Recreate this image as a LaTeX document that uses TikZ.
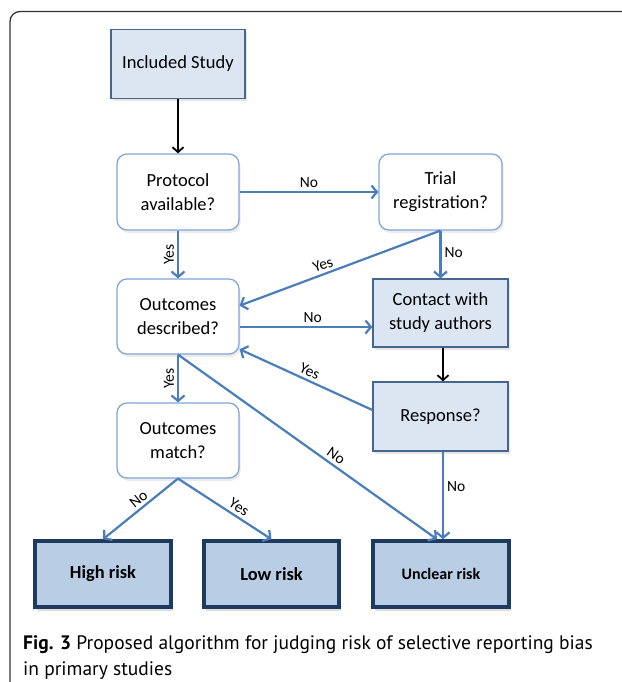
\documentclass[tikz,border=0pt]{standalone}
\usepackage{fontspec}
\setmainfont{Carlito}
\newfontfamily\capfont{PT Sans}
\usepackage{tikz}
\usetikzlibrary{arrows.meta,shadows}
\definecolor{fc-fill}{HTML}{DCE6F2}
\definecolor{fc-line}{HTML}{45668F}
\definecolor{fc-ask}{HTML}{7EA3D6}
\definecolor{fc-flow}{HTML}{4A7EBB}
\definecolor{fc-riskfill}{HTML}{B9CDE5}
\definecolor{fc-riskline}{HTML}{1E3A5F}
\definecolor{fc-frame}{HTML}{333333}

\tikzset{
    boxtext/.style={font=\fontsize{18.5}{24}\selectfont, align=center},
    plainbox/.style={boxtext, draw=fc-line, fill=fc-fill, line width=1.2pt,
        minimum width=135pt, minimum height=69pt,
        drop shadow={opacity=0.2, shadow xshift=1.5pt, shadow yshift=-3pt}},
    askbox/.style={boxtext, draw=fc-ask, fill=white, line width=1.2pt, rounded corners=10pt,
        minimum width=122pt, minimum height=76pt,
        drop shadow={opacity=0.15, shadow xshift=1.5pt, shadow yshift=-3pt}},
    riskbox/.style={draw=fc-riskline, fill=fc-riskfill, line width=3.5pt,
        minimum width=136pt, minimum height=66pt, font=\bfseries\fontsize{18.4}{22}\selectfont,
        drop shadow={opacity=0.25, shadow xshift=1.5pt, shadow yshift=-3.5pt}},
    flow/.style={draw=fc-flow, line width=2.2pt, -{Straight Barb[length=5.5pt,width=13pt]}},
    hard/.style={draw=black, line width=1.8pt, -{Straight Barb[length=5pt,width=11pt]}},
    lbl/.style={font=\fontsize{15.5}{18}\selectfont, inner sep=3pt}
}

\begin{document}
\begin{tikzpicture}[x=1pt, y=1pt]
    \useasboundingbox (0,0) rectangle (621,-682);
    \draw[fc-frame, line width=1.3pt, rounded corners=10pt] (10,-700) -- (10,-11.5) -- (650,-11.5);

    \node[plainbox, minimum width=134pt] (study) at (178,-64) {Included Study};
    \node[askbox] (protocol) at (178,-192) {Protocol\\available?};
    \node[askbox, minimum width=123pt] (trial) at (440.5,-192) {Trial\\registration?};
    \node[askbox, minimum height=75pt] (described) at (178,-316.5) {Outcomes\\described?};
    \node[plainbox, minimum height=68pt] (contact) at (440.5,-313) {Contact with\\study authors};
    \node[plainbox] (response) at (440.5,-416.5) {Response?};
    \node[askbox, minimum height=75pt] (match) at (178,-440.5) {Outcomes\\match?};
    \node[riskbox] (high) at (103,-574) {High risk};
    \node[riskbox, minimum width=135pt] (low) at (271.5,-574) {Low risk};
    \node[riskbox, font=\bfseries\fontsize{16}{20}\selectfont] (unclear) at (441,-574) {Unclear risk};

    \draw[hard] (study) -- (protocol);
    \draw[hard] (contact.south -| response.north) ++(2.5pt,0) coordinate (c1) -- (c1 |- response.north);
    \draw[flow] (protocol) -- node[lbl, above] {No} (trial);
    \draw[flow] (protocol) -- node[lbl, rotate=90, anchor=south] {Yes} (described);
    \draw[flow] (trial) -- node[lbl, right, pos=0.45] {No} (contact);
    \draw[flow] (trial.south) -- node[lbl, sloped, above, pos=0.57] {Yes} (described.10);
    \draw[flow] ([yshift=-10.5pt]described.east) coordinate (d1) -- node[lbl, above, pos=0.55] {No} (d1 -| contact.west);
    \draw[flow] ([yshift=6.5pt]response.west) -- node[lbl, sloped, above, pos=0.5] {Yes} (described.-28);
    \draw[flow] (described) -- node[lbl, rotate=90, anchor=south] {Yes} (match);
    \draw[flow] (described.south) -- node[lbl, sloped, above, pos=0.59] {No} ([xshift=-4pt]unclear.north);
    \draw[flow] ([xshift=2.5pt]response.south) coordinate (r1) -- node[lbl, right, pos=0.4] {No} (r1 |- unclear.north);
    \draw[flow] (match.south) -- node[lbl, sloped, above, pos=0.45] {No} (high.north);
    \draw[flow] (match.south) -- node[lbl, sloped, above, pos=0.6] {Yes} (low.north);

    \node[anchor=north west, align=left, inner sep=0pt, font=\capfont\fontsize{19.5}{26}\selectfont] (caption) at (23,-635)
        {\textbf{Fig. 3} Proposed algorithm for judging risk of selective reporting bias\\in primary studies};
\end{tikzpicture}
\end{document}
